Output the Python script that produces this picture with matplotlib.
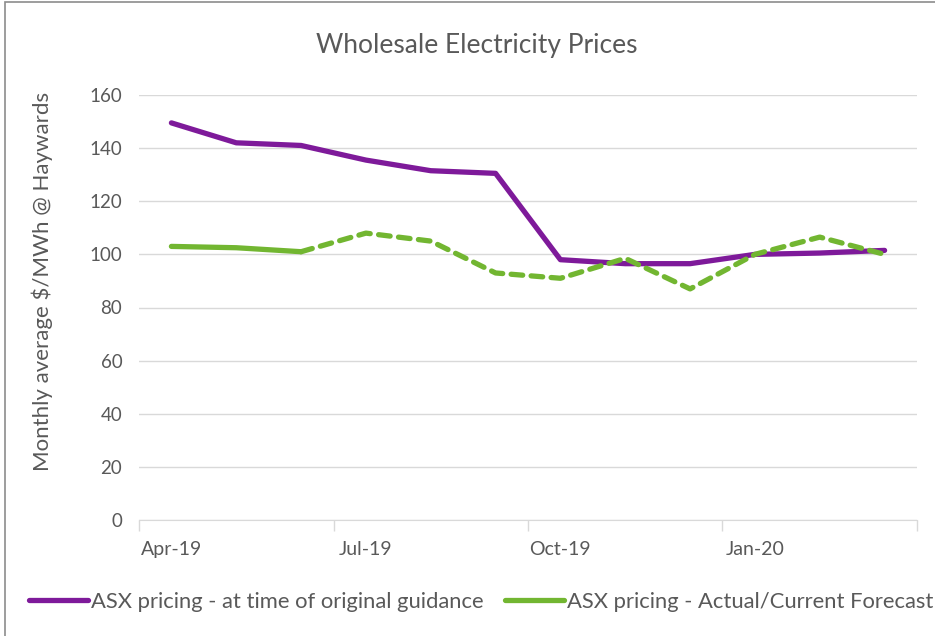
import numpy as np
import matplotlib
matplotlib.use("Agg")
import matplotlib.pyplot as plt
from matplotlib.patches import Rectangle

# Data
months = ["Apr-19", "May-19", "Jun-19", "Jul-19", "Aug-19", "Sep-19",
          "Oct-19", "Nov-19", "Dec-19", "Jan-20", "Feb-20", "Mar-20"]
original = [149.5, 142, 141, 135.5, 131.5, 130.5, 98, 96.5, 96.5, 100, 100.5, 101.5]
actual = [103, 102.5, 101, 108, 105, 93, 91, 98.5, 87, 100, 106.5, 100]
n_actual = 3  # Apr-Jun are actuals, rest forecast
yticks = [0, 20, 40, 60, 80, 100, 120, 140, 160]

purple = "#7E1A9A"
green = "#72B631"
textc = "#595959"

plt.rcParams['font.family'] = ['Lato', 'DejaVu Sans']

fig = plt.figure(figsize=(9.35, 6.36), dpi=100)
fig.patches.append(Rectangle((5 / 935, -0.1), 1.2, 1 - 2 / 636 + 0.1,
                             transform=fig.transFigure, fill=False,
                             edgecolor="#8c8c8c", linewidth=1.2))

ax = fig.add_axes([139 / 935, 1 - 520 / 636, (917 - 139) / 935, (520 - 95) / 636])
x = np.arange(len(months))

ax.plot(x, original, color=purple, lw=3.8, solid_capstyle="round",
        solid_joinstyle="round", label="ASX pricing - at time of original guidance")
ax.plot(x[:n_actual], actual[:n_actual], color=green, lw=3.8,
        solid_capstyle="round", solid_joinstyle="round",
        label="ASX pricing - Actual/Current Forecast")
ax.plot(x[n_actual - 1:], actual[n_actual - 1:], color=green, lw=3.8,
        linestyle=(0, (2.2, 1.6)), dash_capstyle="round")

ax.set_xlim(-0.5, len(months) - 0.5)
ax.set_ylim(0, 160)
ax.set_yticks(yticks)
ax.yaxis.grid(True, color="#d9d9d9", lw=1)
ax.set_axisbelow(True)
ax.tick_params(axis="y", length=0, pad=12, labelsize=13.5, labelcolor=textc)

ax.set_xticks(x[::3])
ax.set_xticklabels(months[::3])
ax.tick_params(axis="x", length=0, pad=15, labelsize=14, labelcolor=textc)
ax.set_xticks(np.arange(-0.5, len(months), 3), minor=True)
ax.tick_params(axis="x", which="minor", length=8, color="#d9d9d9", width=1)

for s in ["top", "right", "left"]:
    ax.spines[s].set_visible(False)
ax.spines["bottom"].set_color("#d9d9d9")

fig.text(477 / 935, 1 - 45 / 636, "Wholesale Electricity Prices", ha="center",
         va="center", fontsize=19, color=textc)
fig.text(42 / 935, 1 - 281 / 636, "Monthly average $/MWh @ Haywards", rotation=90,
         ha="center", va="center", fontsize=16, color=textc)

fig.legend(loc="center", bbox_to_anchor=(481 / 935, 1 - 602 / 636), ncol=2,
           frameon=False, fontsize=15.8, handlelength=2.7, handletextpad=0.1,
           columnspacing=1.0, labelcolor=textc)

fig.savefig("out.png", dpi=100)
